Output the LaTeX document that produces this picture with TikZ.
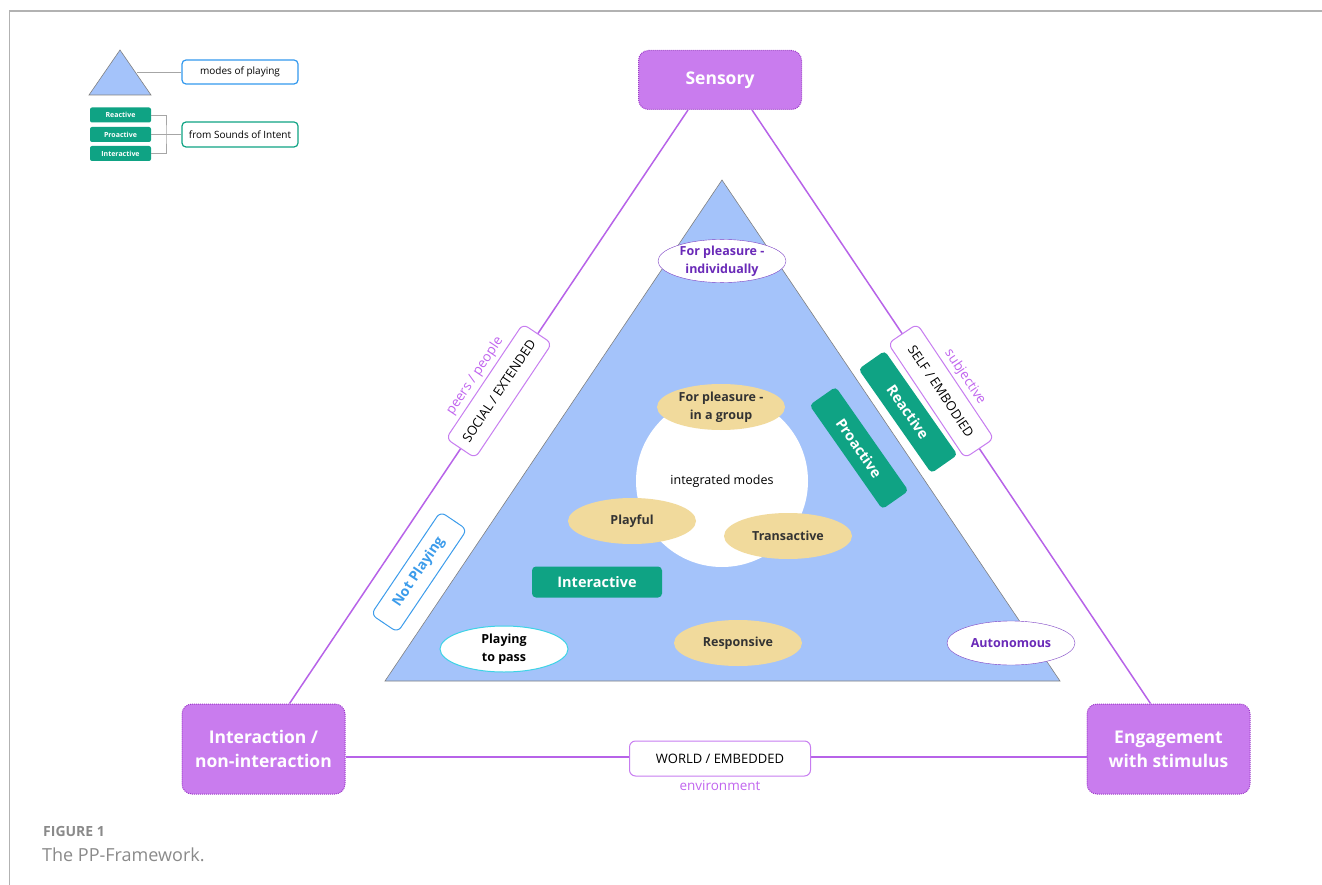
\documentclass[tikz,border=0pt]{standalone}
\usepackage{fontspec}
\setmainfont{Open Sans}
\usetikzlibrary{shapes.geometric}

\definecolor{cornerfill}{HTML}{C97CEE}
\definecolor{cornerline}{HTML}{9D3CC9}
\definecolor{axisline}{HTML}{B763E8}
\definecolor{axistext}{HTML}{C065EE}
\definecolor{sideedge}{HTML}{C77DF0}
\definecolor{soigreen}{HTML}{0FA384}
\definecolor{modeyellow}{HTML}{F1DA9C}
\definecolor{modeblue}{HTML}{A4C3FA}
\definecolor{purpletext}{HTML}{6A2AB8}
\definecolor{purpleedge}{HTML}{7B3FC4}
\definecolor{npblue}{HTML}{3C9CEB}
\definecolor{cyanedge}{HTML}{3DD3E6}
\definecolor{legblue}{HTML}{3399EE}
\definecolor{capgray}{HTML}{8A8A8A}

\begin{document}
\begin{tikzpicture}[x=1pt,y=-1pt]
    \useasboundingbox (0,0) rectangle (1322,885);
    \tikzset{
        corner/.style={rectangle, rounded corners=10pt, fill=cornerfill, draw=cornerline,
            densely dotted, line width=1pt, text=white, align=center, inner sep=0pt,
            font=\fontsize{17.5}{24}\selectfont\bfseries, minimum width=163pt, minimum height=90pt},
        axis/.style={draw=axisline, line width=1.5pt},
        side/.style={rectangle, rounded corners=6pt, fill=white, draw=sideedge, line width=1pt,
            font=\fontsize{13}{15}\selectfont, minimum width=138pt, minimum height=35pt, inner sep=0pt},
        sidenote/.style={text=axistext, font=\fontsize{13.5}{16}\selectfont, inner sep=0pt},
        modetri/.style={fill=modeblue, draw=gray, line width=0.6pt},
        mode/.style={ellipse, fill=modeyellow, text=black!80, align=center, inner sep=0pt,
            font=\fontsize{12.5}{18}\selectfont\bfseries, minimum width=128pt, minimum height=46pt},
        sound/.style={rectangle, rounded corners=4pt, fill=soigreen, text=white, inner sep=0pt,
            font=\fontsize{14.5}{17}\selectfont\bfseries, minimum width=127pt, minimum height=32pt},
        legbox/.style={rectangle, rounded corners=4pt, fill=white, line width=1.2pt, inner sep=0pt,
            font=\fontsize{10}{12}\selectfont, minimum width=116pt, minimum height=24pt},
        legsoi/.style={rectangle, rounded corners=2pt, fill=soigreen, text=white, inner sep=0pt,
            font=\fontsize{7}{8}\selectfont\bfseries, minimum width=61pt, minimum height=15pt},
        legline/.style={draw=gray!70, line width=0.8pt}
    }

    \draw[gray!60, line width=1.2pt] (9.5,885) -- (9.5,11) -- (1322,11);

    \draw[modetri] (120,50) -- (151,95) -- (89,95) -- cycle;
    \coordinate (legtip) at (137,72);
    \node[legbox, draw=legblue] (modes) at (240,72) {modes of playing};
    \draw[legline] (legtip) -- (modes.west);
    \node[legsoi] (lreact) at (120.5,115) {Reactive};
    \node[legsoi] (lproact) at (120.5,134.5) {Proactive};
    \node[legsoi] (linter) at (120.5,153.5) {Interactive};
    \node[legbox, draw=soigreen, minimum height=25pt] (sounds) at (240,134.5) {from Sounds of Intent};
    \coordinate (brk) at (166,134.5);
    \draw[legline] (lreact.east) -| (brk) |- (linter.east);
    \draw[legline] (lproact.east) -- (sounds.west);

    \node[corner, minimum height=59pt] (sens) at (720,80) {Sensory};
    \node[corner] (inter) at (263.5,749) {Interaction /\\non-interaction};
    \node[corner] (eng) at (1168.5,749) {Engagement\\with stimulus};

    \draw[axis] ([xshift=-32pt]sens.south) -- ([xshift=26pt]inter.north);
    \draw[axis] ([xshift=32pt]sens.south) -- ([xshift=-18pt]eng.north);
    \draw[axis] ([yshift=-8pt]inter.east) -- ([yshift=-8pt]eng.west);

    \draw[modetri] (722,180) -- (1060,681) -- (385,681) -- cycle;
    \node[circle, fill=white, minimum size=172pt, inner sep=0pt,
        font=\fontsize{12.5}{15}\selectfont] (integ) at (722,481) {integrated modes};

    \node[mode] (group) at (721,407) {For pleasure -\\in a group};
    \node[mode] (playful) at (632,521) {Playful};
    \node[mode] (trans) at (788,536) {Transactive};
    \node[mode] (resp) at (738,643) {Responsive};
    \node[mode, fill=white, draw=purpleedge, text=purpletext, minimum height=40pt] (indiv) at (722,261) {For pleasure -\\individually};
    \node[mode, fill=white, draw=purpleedge, text=purpletext, minimum height=44pt] (auton) at (1011,643) {Autonomous};
    \node[mode, fill=white, draw=cyanedge, line width=1pt, text=black, minimum height=46pt] (pass) at (504,649) {Playing\\to pass};

    \node[sound, minimum width=130pt, minimum height=31pt] (sinter) at (597,582) {Interactive};
    \node[sound, rotate=-55] (sreact) at (908,412) {Reactive};
    \node[sound, rotate=-55] (sproact) at (859,448) {Proactive};

    \node[side, rotate=56.2] (social) at (499,391) {SOCIAL / EXTENDED};
    \node[side, rotate=-56.2] (self) at (941,391) {SELF / EMBODIED};
    \node[side, minimum width=181pt] (world) at (720,758.5) {WORLD / EMBEDDED};
    \node[sidenote, rotate=56.2] (peers) at (475,376) {peers / people};
    \node[sidenote, rotate=-56.2] (subj) at (965,377) {subjective};
    \node[sidenote] (envir) at (720,786) {environment};

    \node[side, draw=npblue, text=npblue, rotate=56, minimum width=124pt, minimum height=32pt,
        font=\fontsize{14}{17}\selectfont\bfseries] (notplay) at (419,572) {Not Playing};

    \node[anchor=west, text=capgray, inner sep=0pt, font=\fontsize{14}{16}\selectfont\bfseries] (figno) at (43,831) {FIGURE 1};
    \node[anchor=west, text=capgray, inner sep=0pt, font=\fontsize{18}{21}\selectfont] (cap) at (42,855) {The PP-Framework.};
\end{tikzpicture}
\end{document}
